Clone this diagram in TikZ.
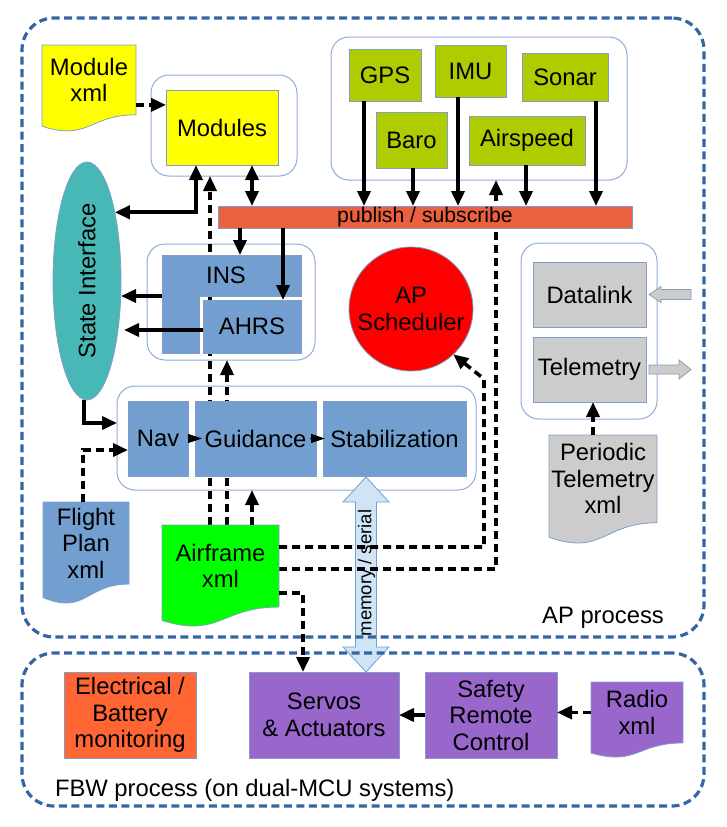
\documentclass[tikz,border=0pt]{standalone}
\usepackage{fontspec}
\setmainfont{Liberation Sans}
\usetikzlibrary{arrows.meta,shapes.geometric,calc}
\definecolor{boxblue}{HTML}{729FCF}
\definecolor{sensgreen}{HTML}{AFCC00}
\definecolor{barred}{HTML}{EB613F}
\definecolor{elecor}{HTML}{FF6633}
\definecolor{purp}{HTML}{9966CC}
\definecolor{grayb}{HTML}{CCCCCC}
\definecolor{tealc}{HTML}{48B8B6}
\definecolor{outerb}{HTML}{3465A4}
\definecolor{contc}{HTML}{8EAADB}
\definecolor{bordc}{HTML}{7F9FC8}
\definecolor{memfill}{HTML}{CFE5F5}
\definecolor{yel}{HTML}{FFFF00}
\definecolor{grn}{HTML}{00FF00}
\definecolor{redc}{HTML}{FF0000}
\definecolor{grayarr}{HTML}{8C9DB5}
\pgfdeclarelayer{back}\pgfdeclarelayer{mid}\pgfsetlayers{back,mid,main}
\newcommand\docnode[7]{%
  \pgfmathsetmacro\docW{#4-#2}%
  \pgfmathsetmacro\docH{0.802*#5}%
  \pgfmathsetmacro\docX{0.5*(#2+#4)}%
  \pgfmathsetmacro\docY{#3+0.401*#5}%
  \filldraw[docline, fill=#6] (#2,#3) -- (#4,#3) -- (#4,{#3+0.802*#5})
    .. controls (\docX,{#3+0.802*#5}) and (\docX,{#3+1.107*#5}) .. (#2,{#3+0.934*#5}) -- cycle;
  \node[minimum width=\docW pt, minimum height=\docH pt] (#1) at (\docX,\docY) {#7};
}
\begin{document}
\begin{tikzpicture}[x=1pt,y=-1pt,
  every node/.style={font=\fontsize{23.8}{26.5}\selectfont, inner sep=0pt, outer sep=0pt, align=center},
  box/.style={draw=bordc, line width=0.8pt, fill=#1},
  docline/.style={draw=bordc, line width=0.8pt},
  cont/.style={draw=contc, line width=1pt, rounded corners=18pt},
  outerbox/.style={draw=outerb, line width=3.2pt, dash pattern=on 8pt off 4.5pt, rounded corners=32pt},
  sline/.style={line width=3.6pt},
  sarrow/.style={sline, -{Triangle[length=15pt,width=13pt]}},
  sboth/.style={sline, {Triangle[length=15pt,width=13pt]}-{Triangle[length=15pt,width=13pt]}},
  darrow/.style={line width=3.6pt, dash pattern=on 8pt off 5pt, -{Triangle[length=15pt,width=13pt]}},
  dline/.style={line width=3.6pt, dash pattern=on 8pt off 5pt},
  smalltip/.style={line width=1pt, -{Triangle[length=14pt,width=9pt]}},
  memarrow/.style={draw=boxblue, line width=0.8pt, fill=memfill},
  grayarrow/.style={draw=grayarr, line width=0.8pt, fill=grayb}
]
\useasboundingbox (0,0) rectangle (726,827);

% outer process boxes
\node[outerbox, minimum width=682, minimum height=619] (ap) at (363,327.5) {};
\node[outerbox, minimum width=682, minimum height=153] (fbw) at (363,729.5) {};
\node (aptext) at (603,618) {AP process};
\node[anchor=west] (fbwtext) at (55,790) {FBW process (on dual-MCU systems)};

% containers
\begin{pgfonlayer}{back}
\node[cont, minimum width=146, minimum height=101] (cMod) at (224,125.5) {};
\node[cont, minimum width=296, minimum height=143] (cSens) at (479,108.5) {};
\node[cont, minimum width=168, minimum height=116] (cIns) at (231,302) {};
\node[cont, minimum width=359, minimum height=104] (cGuid) at (296.5,438) {};
\node[cont, minimum width=136, minimum height=176] (cTel) at (589,331) {};
% memory / serial block arrow
\filldraw[memarrow] (366,477) -- (389,502) -- (376.5,502) -- (376.5,647) -- (389,647)
  -- (366,672) -- (343,647) -- (355.5,647) -- (355.5,502) -- (343,502) -- cycle;
\end{pgfonlayer}
\node[rotate=90, font=\fontsize{18.5}{22}\selectfont] (memtext) at (366.5,573) {memory / serial};

% documents
\docnode{modxml}{42}{45}{136}{87}{yel}{Module\\xml}
\docnode{fpxml}{43}{502}{129}{102.3}{boxblue}{Flight\\Plan\\xml}
\docnode{afxml}{162}{525}{279}{102.3}{grn}{Airframe\\xml}
\docnode{ptxml}{549}{435}{657}{109.4}{grayb}{Periodic\\Telemetry\\xml}
\docnode{radio}{591}{682}{683}{76}{purp}{Radio\\xml}

% boxes
\node[box=yel, minimum width=112, minimum height=75] (mods) at (222,127.5) {Modules};
\node[box=sensgreen, minimum width=72, minimum height=52] (gps) at (385,75) {GPS};
\node[box=sensgreen, minimum width=71, minimum height=52] (imu) at (470.5,71) {IMU};
\node[box=sensgreen, minimum width=86, minimum height=48] (sonar) at (565,77) {Sonar};
\node[box=sensgreen, minimum width=71, minimum height=56] (baro) at (411.5,140) {Baro};
\node[box=sensgreen, minimum width=116, minimum height=49] (airspeed) at (527,140.5) {Airspeed};
\node[box=barred, minimum width=414, minimum height=22, font=\fontsize{21.2}{24}\selectfont] (bar) at (425,217) {publish / subscribe};

\node[ellipse, draw=bordc, line width=0.8pt, fill=tealc, minimum width=68, minimum height=238] (si) at (87,281) {};
\node[rotate=90] (sitext) at (si.center) {State Interface};

\filldraw[box=boxblue] (162,255) -- (301,255) -- (301,296) -- (199,296) -- (199,353) -- (162,353) -- cycle;
\node[minimum width=128, minimum height=41] (ins) at (226,275.5) {INS};
\node[box=boxblue, minimum width=98, minimum height=53] (ahrs) at (252,326.5) {AHRS};

\node[box=boxblue, minimum width=60, minimum height=75] (nav) at (158,438.5) {Nav};
\node[box=boxblue, minimum width=121, minimum height=75] (guid) at (255.5,438.5) {Guidance};
\node[box=boxblue, minimum width=143, minimum height=75] (stab) at (394.5,438.5) {Stabilization};

\node[circle, draw=bordc, line width=0.8pt, fill=redc, minimum size=124] (sched) at (411,309) {AP\\Scheduler};

\node[box=grayb, minimum width=113, minimum height=65] (datalink) at (589.5,294.5) {Datalink};
\node[box=grayb, minimum width=113, minimum height=65] (telem) at (589.5,369.5) {Telemetry};

\node[box=elecor, minimum width=132, minimum height=86] (elec) at (130,715) {Electrical /\\Battery\\monitoring};
\node[box=purp, minimum width=150, minimum height=86] (servos) at (324,715) {Servos\\\& Actuators};
\node[box=purp, minimum width=132, minimum height=86] (safety) at (491,715) {Safety\\Remote\\Control};

% gray block arrows
\filldraw[grayarrow] ([xshift=3pt]datalink.east) -- ++(12,-8) -- ++(0,3) -- ++(30,0) -- ++(0,10)
  -- ++(-30,0) -- ++(0,3) -- cycle;
\filldraw[grayarrow] ([xshift=3pt,yshift=4.5pt]telem.east) -- ++(30,0) -- ++(0,-5) -- ++(12,9.5)
  -- ++(-12,9.5) -- ++(0,-5) -- ++(-30,0) -- cycle;

% lines passing behind boxes
\begin{pgfonlayer}{mid}
\coordinate (c9) at ([xshift=-10.5pt]afxml.north);
\draw[darrow] (c9) -- (c9 |- cMod.south);
\coordinate (c10) at ([xshift=6.5pt]afxml.north);
\draw[darrow] (c10) -- (c10 |- cIns.south);
\coordinate (a2) at ([yshift=-3pt]afxml.east);
\coordinate (k2) at ([xshift=17pt]cSens.south);
\draw[darrow] (a2) -| (k2);
\end{pgfonlayer}

% connectors
\coordinate (c1) at ([yshift=-25pt]modxml.east);
\draw[darrow] (c1) -- (c1 -| mods.west);
\coordinate (c2) at ([xshift=-26pt]mods.south);
\draw[sboth] (c2) |- (si.68);
\coordinate (c3) at ([xshift=30pt]mods.south);
\draw[sboth] (c3) -- (c3 |- bar.north);
\foreach \n/\s in {gps/-21, baro/1.5, imu/-12.5, airspeed/-1, sonar/31} {
  \coordinate (t) at ([xshift=\s pt]\n.south);
  \draw[sarrow] (t) -- (t |- bar.north);
}
\coordinate (c4) at ([xshift=14pt]ins.north);
\draw[sarrow] (c4 |- bar.south) -- (c4);
\coordinate (c5) at ([xshift=31pt]ahrs.north);
\draw[sarrow] (c5 |- bar.south) -- (c5);
\draw[sarrow] (ins.south west) -- (ins.south west -| si.east);
\coordinate (c6) at ([yshift=-3.5pt]ahrs.west);
\draw[sarrow, shorten >=3pt] (c6) -- (c6 -| si.east);
\coordinate (c7) at ([yshift=15pt]cGuid.west);
\draw[sarrow] ([xshift=-3pt]si.south) |- (c7);
\coordinate (c8) at ([yshift=-11.5pt]nav.west);
\draw[darrow] ([xshift=-3pt]fpxml.north) |- (c8);
\draw[smalltip] (nav.east) -- ([xshift=7pt]guid.west);
\draw[smalltip] ([xshift=-6pt]guid.east) -- ([xshift=2pt]stab.west);

\coordinate (c11) at ([xshift=31.5pt]afxml.north);
\draw[darrow] (c11) -- (c11 |- cGuid.south);
\coordinate (a1) at ([yshift=19pt]afxml.east);
\coordinate (k1) at (484,379);
\draw[darrow] (a1) -- (a1 -| k1) -- (k1) -- (sched.-47);
\coordinate (a3) at ([yshift=-27pt]afxml.east);
\coordinate (k3) at ([xshift=-21pt]servos.north);
\draw[darrow] (a3) -| (k3);
\coordinate (c12) at ([xshift=-10pt]ptxml.north);
\draw[darrow] (c12) -- (c12 |- telem.south);
\draw[sarrow] (safety.west) -- (servos.east);
\draw[darrow] (radio.west) -- (radio.west -| safety.east);
\end{tikzpicture}
\end{document}
